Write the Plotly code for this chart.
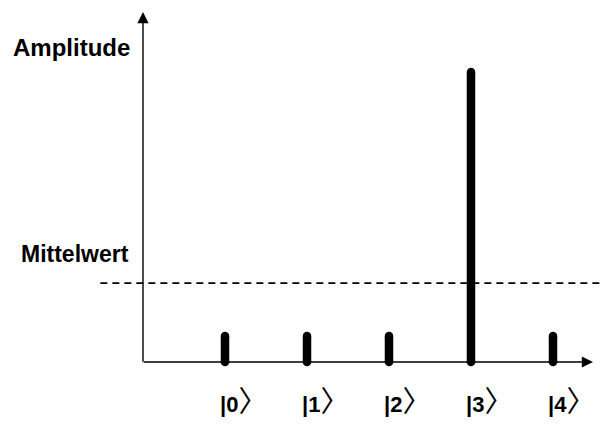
import plotly.graph_objects as go

# ---- data ----
states = [0, 1, 2, 3, 4]
state_labels = ["|0", "|1", "|2", "|3", "|4"]
amplitudes = [0.09, 0.09, 0.09, 1.0, 0.09]
mean_value = sum(amplitudes) / len(amplitudes)
y_title = "Amplitude"
mean_title = "Mittelwert"

# page body has an 8px margin: the figure is drawn from (8, 8)
W, H = 601, 417
X_RANGE = [-2.6463, 4.683]
Y_RANGE = [-0.2172, 1.2207]
FONT = "Liberation Sans, Arial, sans-serif"

fig = go.Figure()

# stems (lines) with round caps emulated by circle markers
xs, ys = [], []
for s, a in zip(states, amplitudes):
    xs += [s, s, None]
    ys += [0, a, None]
fig.add_trace(go.Scatter(
    x=xs, y=ys, mode="lines+markers",
    line=dict(color="black", width=8.5),
    marker=dict(color="black", size=8.5, symbol="circle", line=dict(width=0)),
    hoverinfo="skip", showlegend=False,
))

# mean dashed line
fig.add_shape(type="line", xref="x", yref="y",
              x0=-1.52, x1=X_RANGE[1], y0=mean_value, y1=mean_value,
              line=dict(color="black", width=1.6, dash="7px,5px"))

annotations = []
# y axis with arrow
annotations.append(dict(x=-1, y=1.207, ax=-1, ay=-0.004, xref="x", yref="y",
                        axref="x", ayref="y", showarrow=True, arrowhead=2,
                        arrowsize=1.6, arrowwidth=1.4, arrowcolor="black", text=""))
# x axis with arrow
annotations.append(dict(x=4.488, y=0, ax=-1.01, ay=0, xref="x", yref="y",
                        axref="x", ayref="y", showarrow=True, arrowhead=2,
                        arrowsize=1.6, arrowwidth=1.4, arrowcolor="black", text=""))

annotations.append(dict(x=-2.61, y=1.083, xref="x", yref="y", xanchor="left",
                        yanchor="middle", showarrow=False,
                        text="<b>%s</b>" % y_title,
                        font=dict(family=FONT, size=24, color="black")))
annotations.append(dict(x=-2.51, y=0.372, xref="x", yref="y", xanchor="left",
                        yanchor="middle", showarrow=False,
                        text="<b>%s</b>" % mean_title,
                        font=dict(family=FONT, size=23, color="black")))

for s, lab in zip(states, state_labels):
    annotations.append(dict(
        x=s, y=-0.129, xref="x", yref="y", xanchor="left", yanchor="middle",
        xshift=-7, showarrow=False,
        text="<b>%s</b><span style='font-family:Noto Sans CJK JP;font-size:29px;font-weight:normal'>〉</span>" % lab,
        font=dict(family=FONT, size=22, color="black")))

fig.update_layout(
    width=W, height=H,
    margin=dict(l=0, r=0, t=0, b=0),
    paper_bgcolor="white", plot_bgcolor="white",
    xaxis=dict(range=X_RANGE, visible=False, fixedrange=True),
    yaxis=dict(range=Y_RANGE, visible=False, fixedrange=True),
    annotations=annotations,
    showlegend=False,
)

fig.write_html("out.html")
